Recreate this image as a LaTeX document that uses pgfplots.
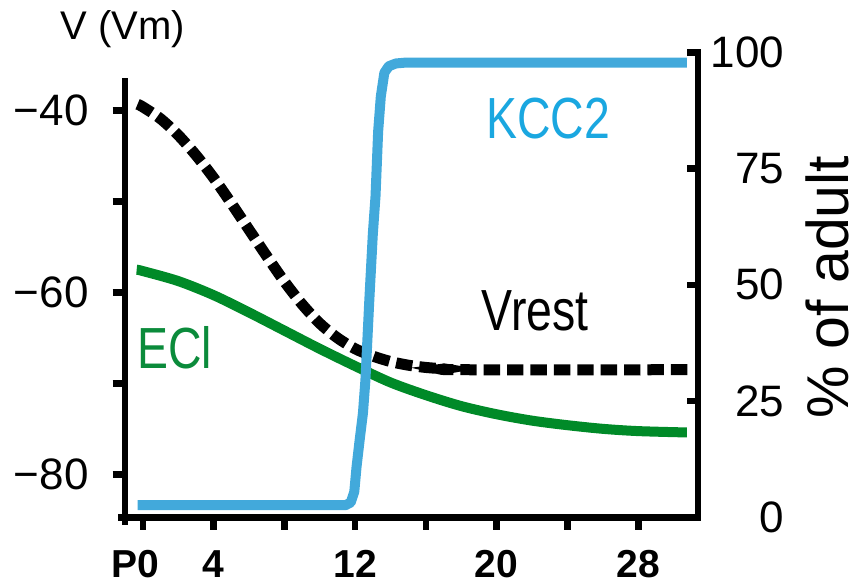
\documentclass[border=0pt]{standalone}
\usepackage{fontspec}
\setmainfont{Liberation Sans}
\usepackage{graphicx}
\usepackage{pgfplots}
\pgfplotsset{compat=1.18}

\definecolor{kccblue}{HTML}{42A9DB}
\definecolor{kcctext}{HTML}{1AA7E0}
\definecolor{eclgreen}{HTML}{008A28}
\definecolor{ecltext}{HTML}{0B8B3B}

% Membrane potentials (mV) against postnatal day
\pgfplotstableread{
day   mv
-0.3  -39.3
0     -39.6
1     -40.9
2     -42.7
3     -44.9
4     -47.4
5     -50.2
6     -53.1
7     -56.0
8     -58.8
9     -61.3
10    -63.4
11    -65.0
12    -66.2
13    -67.0
14    -67.6
15    -68.0
16    -68.25
17    -68.4
18    -68.5
30.8  -68.5
}\vrest

\pgfplotstableread{
day   mv
-0.35 -57.5
0     -57.65
2     -58.75
4     -60.3
6     -62.2
8     -64.2
10    -66.2
12    -68.1
14    -69.9
16    -71.3
18    -72.5
20    -73.4
22    -74.1
24    -74.6
26    -75.0
28    -75.25
30.75 -75.4
}\ecl

% KCC2 expression, percent of adult level
\pgfplotstableread{
day   pct
-0.3  2.6
11.45 2.6
11.75 3.2
11.95 5.5
12.08 10.9
12.25 16.5
12.44 22.4
12.58 29.5
12.8  46.7
13.0  61.0
13.15 69.0
13.3  83.0
13.45 90.5
13.65 95.6
13.9  97.0
14.3  97.6
14.9  97.8
30.75 97.8
}\kcc

\begin{document}
\begin{tikzpicture}
\path[use as bounding box] (-62.5pt,-33.35pt) rectangle (367.5pt,258.65pt);

\begin{axis}[
  width=286.5pt, height=232.5pt, scale only axis,
  xmin=-1.01, xmax=31.38, ymin=-84.73, ymax=-33.59,
  axis x line*=bottom, axis y line*=left,
  axis line style={draw=none},
  clip=false,
  tick align=outside,
  major tick length=6.2pt,
  tick style={line width=3.3pt, black},
  xtick={0,4,...,28},
  xticklabels={{\kern-7.5pt P0},4,,12,,20,,28},
  xticklabel style={font=\fontsize{19.5}{22}\selectfont\bfseries, anchor=north, inner sep=0pt, yshift=-10.15pt},
  ytick={-80,-70,-60,-50,-40},
  yticklabels={−80,,−60,,−40},
  yticklabel style={font=\fontsize{22}{26}\selectfont, anchor=east, inner sep=0pt, xshift=-11.8pt},
]
\addplot[eclgreen, line width=5pt, smooth] table[x=day, y=mv] {\ecl};
\addplot[black, line width=5.5pt, dash pattern=on 8.2pt off 3.5pt, smooth] table[x=day, y=mv] {\vrest};

\node[anchor=base west, inner sep=0pt, text=kcctext, font=\fontsize{29}{30}\selectfont]
  at (axis cs:19.38,-43.08) {\scalebox{0.8}[1]{KCC2}};
\node[anchor=base west, inner sep=0pt, text=black, font=\fontsize{29}{30}\selectfont]
  at (axis cs:19.14,-64.14) {\scalebox{0.8}[1]{Vrest}};
\node[anchor=base west, inner sep=0pt, text=ecltext, font=\fontsize{29}{30}\selectfont]
  at (axis cs:-0.35,-68.32) {\scalebox{0.8}[1]{ECl}};
\end{axis}

\begin{axis}[
  width=286.5pt, height=232.5pt, scale only axis,
  xmin=-1.01, xmax=31.38, ymin=0, ymax=100,
  axis x line=none, axis y line*=right,
  axis line style={draw=none},
  clip=false,
  tick align=inside,
  major tick length=5.5pt,
  tick style={line width=3.3pt, black},
  ytick={0,25,50,75,100},
  yticklabels={0,25,50,75,100},
  yticklabel style={font=\fontsize{22}{26}\selectfont, anchor=east, inner sep=0pt, xshift=43.35pt},
]
\addplot[kccblue, line width=5pt, line join=round] table[x=day, y=pct] {\kcc};
\end{axis}

% axis frame
\draw[line width=3.3pt, line join=miter] (281pt,232.5pt) -- (286.5pt,232.5pt) -- (286.5pt,0pt) -- (-3.5pt,0pt);
\draw[line width=3.3pt] (0pt,-3.7pt) -- (0pt,219.5pt);

% axis titles
\node[anchor=base west, inner sep=0pt, font=\fontsize{20}{22}\selectfont] at (-32.5pt,238.65pt) {V (Vm)};
\node[anchor=base, rotate=90, inner sep=0pt, font=\fontsize{29.5}{32}\selectfont] at (361.5pt,115.15pt) {\% of adult};
\end{tikzpicture}
\end{document}
